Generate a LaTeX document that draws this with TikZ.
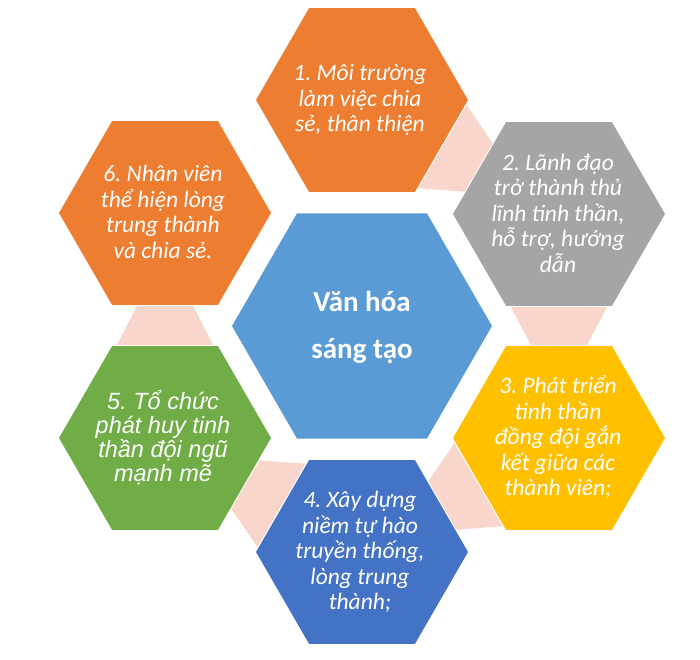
\documentclass[tikz,border=0pt]{standalone}
\usepackage{fontspec}
\setmainfont{Carlito}
\newfontfamily\arialfont{Liberation Sans}
\usetikzlibrary{shapes.geometric,calc,backgrounds}
\frenchspacing
\definecolor{corange}{HTML}{ED7D31}
\definecolor{cgray}{HTML}{A5A5A5}
\definecolor{cgold}{HTML}{FFC000}
\definecolor{cblue}{HTML}{4472C4}
\definecolor{cgreen}{HTML}{70AD47}
\definecolor{ccenter}{HTML}{5B9BD5}
\definecolor{cpink}{HTML}{F8D6CB}
\newcommand\hexlink[2]{%
  \fill[linkshape] ($(#1.center)!104.7pt!27.3:(#2.center)$)
    -- ($(#1.center)!104.7pt!-27.3:(#2.center)$)
    -- ($(#2.center)!97.1pt!16.8:(#1.center)$)
    -- ($(#2.center)!97.1pt!-16.8:(#1.center)$) -- cycle;}
\begin{document}
\begin{tikzpicture}[x=1pt,y=-1pt,
  hexa/.style={regular polygon, regular polygon sides=6,
    inner sep=0pt, outer sep=0pt, minimum size=212pt, draw=none},
  bighexa/.style={hexa, minimum size=260pt},
  hextext/.style={text=white, align=center, inner sep=0pt,
    font=\frenchspacing\fontsize{23.5}{25.5}\selectfont\itshape},
  centertext/.style={text=white, align=center, inner sep=0pt,
    font=\fontsize{29}{47}\selectfont\bfseries},
  linkshape/.style={fill=cpink}]
\useasboundingbox (0,0) rectangle (700,659);
% hexagons
\node[bighexa, fill=ccenter] (hc) at (362,326) {};
\node[hexa, fill=corange] (h1) at (362,100) {};
\node[hexa, fill=cgray]   (h2) at (559,214) {};
\node[hexa, fill=cgold]   (h3) at (559,438) {};
\node[hexa, fill=cblue]   (h4) at (362,552) {};
\node[hexa, fill=cgreen]  (h5) at (165,438) {};
\node[hexa, fill=corange] (h6) at (165,213) {};
% links
\begin{scope}[on background layer]
\fill[white] (0,0) rectangle (700,659);
\hexlink{h1}{h2}
\hexlink{h2}{h3}
\hexlink{h3}{h4}
\hexlink{h4}{h5}
\hexlink{h5}{h6}
\end{scope}
% texts
\node[centertext] (tc) at (362,327) {Văn hóa\\sáng tạo};
\node[hextext] (t1) at (360,100) {1. Môi trường\\làm việc chia\\sẻ, thân thiện};
\node[hextext] (t2) at (558,213) {2. Lãnh đạo\\trở thành thủ\\lĩnh tinh thần,\\hỗ trợ, hướng\\dẫn};
\node[hextext] (t3) at (558,437) {3. Phát triển\\tinh thần\\đồng đội gắn\\kết giữa các\\thành viên;};
\node[hextext] (t4) at (360,552) {4. Xây dựng\\niềm tự hào\\truyền thống,\\lòng trung\\thành;};
\node[hextext, font=\frenchspacing\arialfont\fontsize{23.5}{24}\selectfont\itshape] (t5) at (163,438) {5. Tổ chức\\phát huy tinh\\thần đội ngũ\\mạnh mẽ};
\node[hextext] (t6) at (163,212) {6. Nhân viên\\thể hiện lòng\\trung thành\\và chia sẻ.};
\end{tikzpicture}
\end{document}
